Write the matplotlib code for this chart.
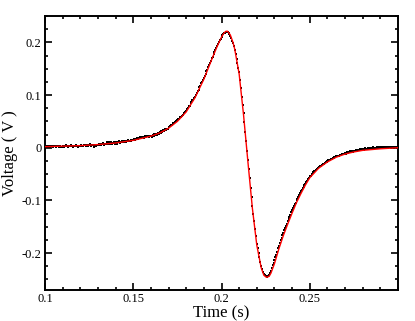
"""
Measured pulse (black dots) with fitted curve (red line)
"""

import matplotlib
matplotlib.use("Agg")
import matplotlib.pyplot as plt
import numpy as np
from matplotlib.ticker import MultipleLocator, FixedLocator, FixedFormatter

# sampled data: one value every 0.5 ms starting at 0.1 s
t_start = 0.100
t_step = 0.0005
v_samples = [
    0.002, 0.001, 0.003, 0.002, 0.004, 0.002, 0.001, 0.003, 0.003, 0.002,
    0.004, 0.003, 0.001, 0.002, 0.003, 0.004, 0.002, 0.003, 0.002, 0.001,
    0.003, 0.004, 0.002, 0.003, 0.005, 0.003, 0.002, 0.004, 0.004, 0.003,
    0.005, 0.003, 0.002, 0.004, 0.003, 0.005, 0.004, 0.002, 0.003, 0.004,
    0.004, 0.005, 0.003, 0.004, 0.006, 0.005, 0.004, 0.005, 0.006, 0.004,
    0.005, 0.007, 0.004, 0.005, 0.006, 0.005, 0.001, 0.005, 0.004, 0.006,
    0.006, 0.007, 0.005, 0.008, 0.006, 0.007, 0.009, 0.006, 0.007, 0.008,
    0.010, 0.007, 0.008, 0.011, 0.007, 0.010, 0.008, 0.009, 0.011, 0.008,
    0.009, 0.011, 0.008, 0.010, 0.012, 0.009, 0.011, 0.013, 0.010, 0.012,
    0.011, 0.013, 0.010, 0.012, 0.014, 0.012, 0.013, 0.015, 0.012, 0.014,
    0.014, 0.016, 0.015, 0.017, 0.018, 0.017, 0.019, 0.018, 0.020, 0.019,
    0.021, 0.020, 0.019, 0.022, 0.021, 0.020, 0.023, 0.022, 0.021, 0.023,
    0.023, 0.021, 0.024, 0.023, 0.026, 0.024, 0.027, 0.025, 0.028, 0.027,
    0.030, 0.028, 0.031, 0.030, 0.033, 0.032, 0.035, 0.033, 0.036, 0.035,
    0.039, 0.040, 0.041, 0.043, 0.044, 0.046, 0.046, 0.048, 0.050, 0.050,
    0.052, 0.054, 0.055, 0.058, 0.059, 0.061, 0.062, 0.065, 0.066, 0.068,
    0.070, 0.073, 0.075, 0.079, 0.080, 0.084, 0.086, 0.090, 0.091, 0.095,
    0.097, 0.101, 0.103, 0.108, 0.110, 0.115, 0.117, 0.122, 0.124, 0.129,
    0.132, 0.136, 0.140, 0.145, 0.148, 0.153, 0.157, 0.161, 0.165, 0.170,
    0.173, 0.178, 0.181, 0.186, 0.189, 0.193, 0.197, 0.200, 0.204, 0.207,
    0.211, 0.213, 0.215, 0.217, 0.218, 0.219, 0.219, 0.219, 0.218, 0.216,
    0.212, 0.208, 0.203, 0.199, 0.193, 0.186, 0.178, 0.169, 0.161, 0.151,
    0.143, 0.128, 0.113, 0.097, 0.081, 0.066, 0.049, 0.030, 0.013, -0.006,
    -0.023, -0.041, -0.058, -0.077, -0.093, -0.110, -0.126, -0.139, -0.154, -0.167,
    -0.182, -0.191, -0.199, -0.207, -0.216, -0.224, -0.230, -0.235, -0.239, -0.242,
    -0.244, -0.245, -0.245, -0.243, -0.241, -0.237, -0.233, -0.228, -0.223, -0.218,
    -0.214, -0.208, -0.203, -0.197, -0.191, -0.186, -0.181, -0.176, -0.171, -0.166,
    -0.161, -0.157, -0.152, -0.148, -0.144, -0.139, -0.135, -0.131, -0.127, -0.122,
    -0.119, -0.115, -0.111, -0.107, -0.104, -0.099, -0.097, -0.093, -0.090, -0.086,
    -0.083, -0.080, -0.077, -0.074, -0.071, -0.068, -0.065, -0.063, -0.060, -0.058,
    -0.054, -0.053, -0.050, -0.049, -0.047, -0.045, -0.044, -0.042, -0.040, -0.039,
    -0.037, -0.036, -0.034, -0.034, -0.032, -0.031, -0.030, -0.029, -0.028, -0.027,
    -0.025, -0.024, -0.023, -0.023, -0.021, -0.021, -0.020, -0.019, -0.018, -0.018,
    -0.016, -0.016, -0.015, -0.015, -0.013, -0.014, -0.012, -0.012, -0.011, -0.012,
    -0.010, -0.011, -0.009, -0.010, -0.008, -0.009, -0.007, -0.008, -0.006, -0.008,
    -0.006, -0.007, -0.005, -0.006, -0.004, -0.005, -0.004, -0.003, -0.005, -0.003,
    -0.003, -0.002, -0.004, -0.001, -0.003, -0.002, 0.000, -0.002, -0.001, -0.003,
    0.000, -0.001, 0.001, -0.002, 0.000, -0.001, 0.001, 0.000, -0.001, 0.001,
    0.000, 0.001, -0.001, 0.002, 0.000, 0.001, 0.002, 0.000, 0.001, -0.001,
    0.002, 0.001, 0.000, 0.002, 0.001, 0.000, 0.002, 0.001, 0.002, 0.000,
    0.001,
]

# fitted curve
t_fit = [0.100, 0.110, 0.120, 0.130, 0.140, 0.150, 0.155, 0.160, 0.165, 0.170,
         0.175, 0.180, 0.185, 0.190, 0.195, 0.1975, 0.200, 0.2015, 0.2025, 0.2035,
         0.205, 0.2065, 0.2075, 0.210, 0.2125, 0.215, 0.2175, 0.220, 0.2225, 0.224,
         0.2255, 0.227, 0.228, 0.230, 0.2325, 0.235, 0.2375, 0.240, 0.2425, 0.245,
         0.2475, 0.250, 0.255, 0.260, 0.265, 0.270, 0.275, 0.280, 0.290, 0.300]
v_fit = [0.002, 0.003, 0.004, 0.006, 0.009, 0.014, 0.018, 0.022, 0.028, 0.037,
         0.050, 0.068, 0.095, 0.130, 0.172, 0.192, 0.210, 0.218, 0.221, 0.221,
         0.214, 0.200, 0.187, 0.140, 0.062, -0.028, -0.115, -0.185, -0.228, -0.242,
         -0.246, -0.244, -0.238, -0.220, -0.192, -0.167, -0.145, -0.124, -0.104, -0.087,
         -0.071, -0.057, -0.039, -0.027, -0.018, -0.012, -0.008, -0.005, -0.002, 0.000]

x_ticks = [0.1, 0.15, 0.2, 0.25]
x_tick_labels = ["0.1", "0.15", "0.2", "0.25"]
y_ticks = [-0.2, -0.1, 0.0, 0.1, 0.2]
y_tick_labels = ["-0.2", "-0.1", "0", "0.1", "0.2"]

plt.rcParams['font.family'] = ['Liberation Serif', 'DejaVu Serif']

t_samples = t_start + t_step * np.arange(len(v_samples))

fig = plt.figure(figsize=(4.15, 3.21), dpi=100)
ax = fig.add_axes([45 / 415, 1 - 290 / 321, 353 / 415, 274 / 321])

ax.plot(t_samples, v_samples, 's', color='black', markersize=1.7,
        markeredgewidth=0, zorder=2)
ax.plot(t_fit, v_fit, '-', color='red', linewidth=1.0, zorder=3)

ax.set_xlim(0.1, 0.3)
ax.set_ylim(-0.27, 0.25)

ax.xaxis.set_major_locator(FixedLocator(x_ticks))
ax.xaxis.set_major_formatter(FixedFormatter(x_tick_labels))
ax.xaxis.set_minor_locator(MultipleLocator(0.01))
ax.yaxis.set_major_locator(FixedLocator(y_ticks))
ax.yaxis.set_major_formatter(FixedFormatter(y_tick_labels))
ax.yaxis.set_minor_locator(MultipleLocator(0.025))

ax.tick_params(which='both', direction='in', top=True, right=True,
               width=1.2, labelsize=9, colors='black')
ax.tick_params(which='major', length=5, pad=2.5)
ax.tick_params(which='minor', length=2.5)
for spine in ax.spines.values():
    spine.set_linewidth(1.4)

ax.set_xlabel('Time (s)', fontsize=12, va='center')
ax.xaxis.set_label_coords(0.5, -23 / 274)
ax.set_ylabel('Voltage ( V )', fontsize=12, va='center')
ax.yaxis.set_label_coords(-35 / 353, 0.5)

fig.savefig('out.png', dpi=100)
